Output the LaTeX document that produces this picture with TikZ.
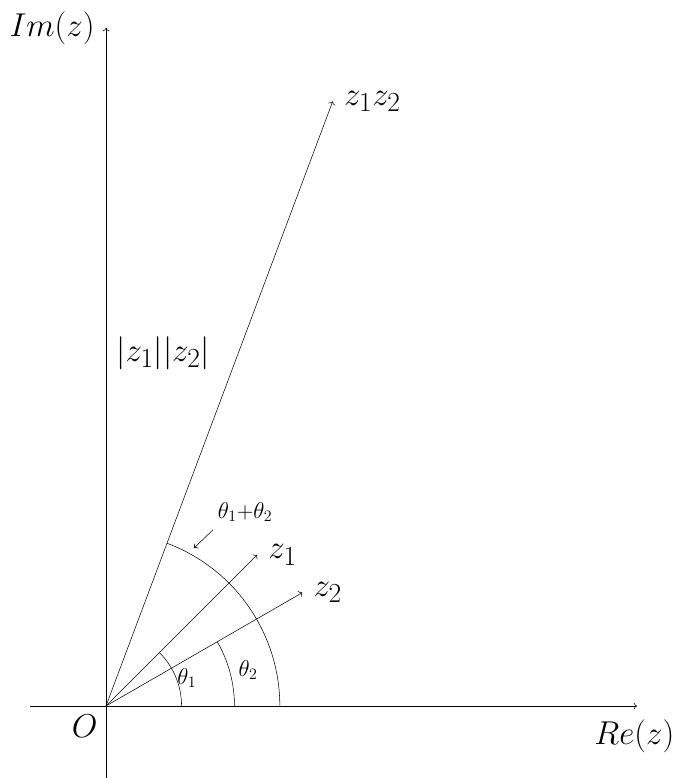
\documentclass[tikz,border=0pt]{standalone}
\usepackage{amsmath,amssymb}
\usepackage{tikz}
\usetikzlibrary{arrows.meta,calc,positioning}
\tikzset{
  axislabel/.style={font=\Huge},
  veclabel/.style={font=\Huge},
  anglabel/.style={font=\LARGE}
}

\begin{document}
\begin{tikzpicture}
  \useasboundingbox (-2.804,-1.905) rectangle (15.0,18.68);
  \coordinate (O) at (0,0);
  \coordinate (z1) at (4,4);
  \coordinate (z2) at ({6*cos(30)},{6*sin(30)});
  \coordinate (z1z2) at (6,16);
  \coordinate (xend) at (14.05,0);
  \coordinate (yend) at (0,17.94);
  % axes
  \draw[->] (-2.0,0)--(xend) node[below=7pt,xshift=-2pt,axislabel] {$Re(z)$};
  \draw[->] (0,-1.95)--(yend) node[left=5pt,axislabel] {$Im(z)$};
  \node[below left=4pt,axislabel] (orig) at (O) {$O$};
  % vectors
  \draw[->] (O)--(z1) node[right=5pt,veclabel] {$z_1$};
  \draw[->] (O)--(z2) node[right=5pt,veclabel] {$z_2$};
  \draw[->] (O)--(z1z2) node[right=5pt,veclabel] {$z_1z_2$};
  \node[veclabel] (mod) at (1.51,9.34) {$|z_1||z_2|$};
  % angles
  \draw (2,0) arc[start angle=0,end angle=45,radius=2];
  \draw (3.4,0) arc[start angle=0,end angle=30,radius=3.4];
  \draw (4.6,0) arc[start angle=0,end angle={atan2(16,6)},radius=4.6];
  \node[anglabel] (th1) at (2.14,0.74) {$\theta_1$};
  \node[anglabel] (th2) at (3.76,0.95) {$\theta_2$};
  \node[anglabel] (thsum) at (3.68,5.13) {$\theta_1{+}\theta_2$};
  \coordinate (pstart) at (2.83,4.66);
  \coordinate (pend) at (2.33,4.18);
  \draw[->] (pstart)--(pend);
\end{tikzpicture}
\end{document}
